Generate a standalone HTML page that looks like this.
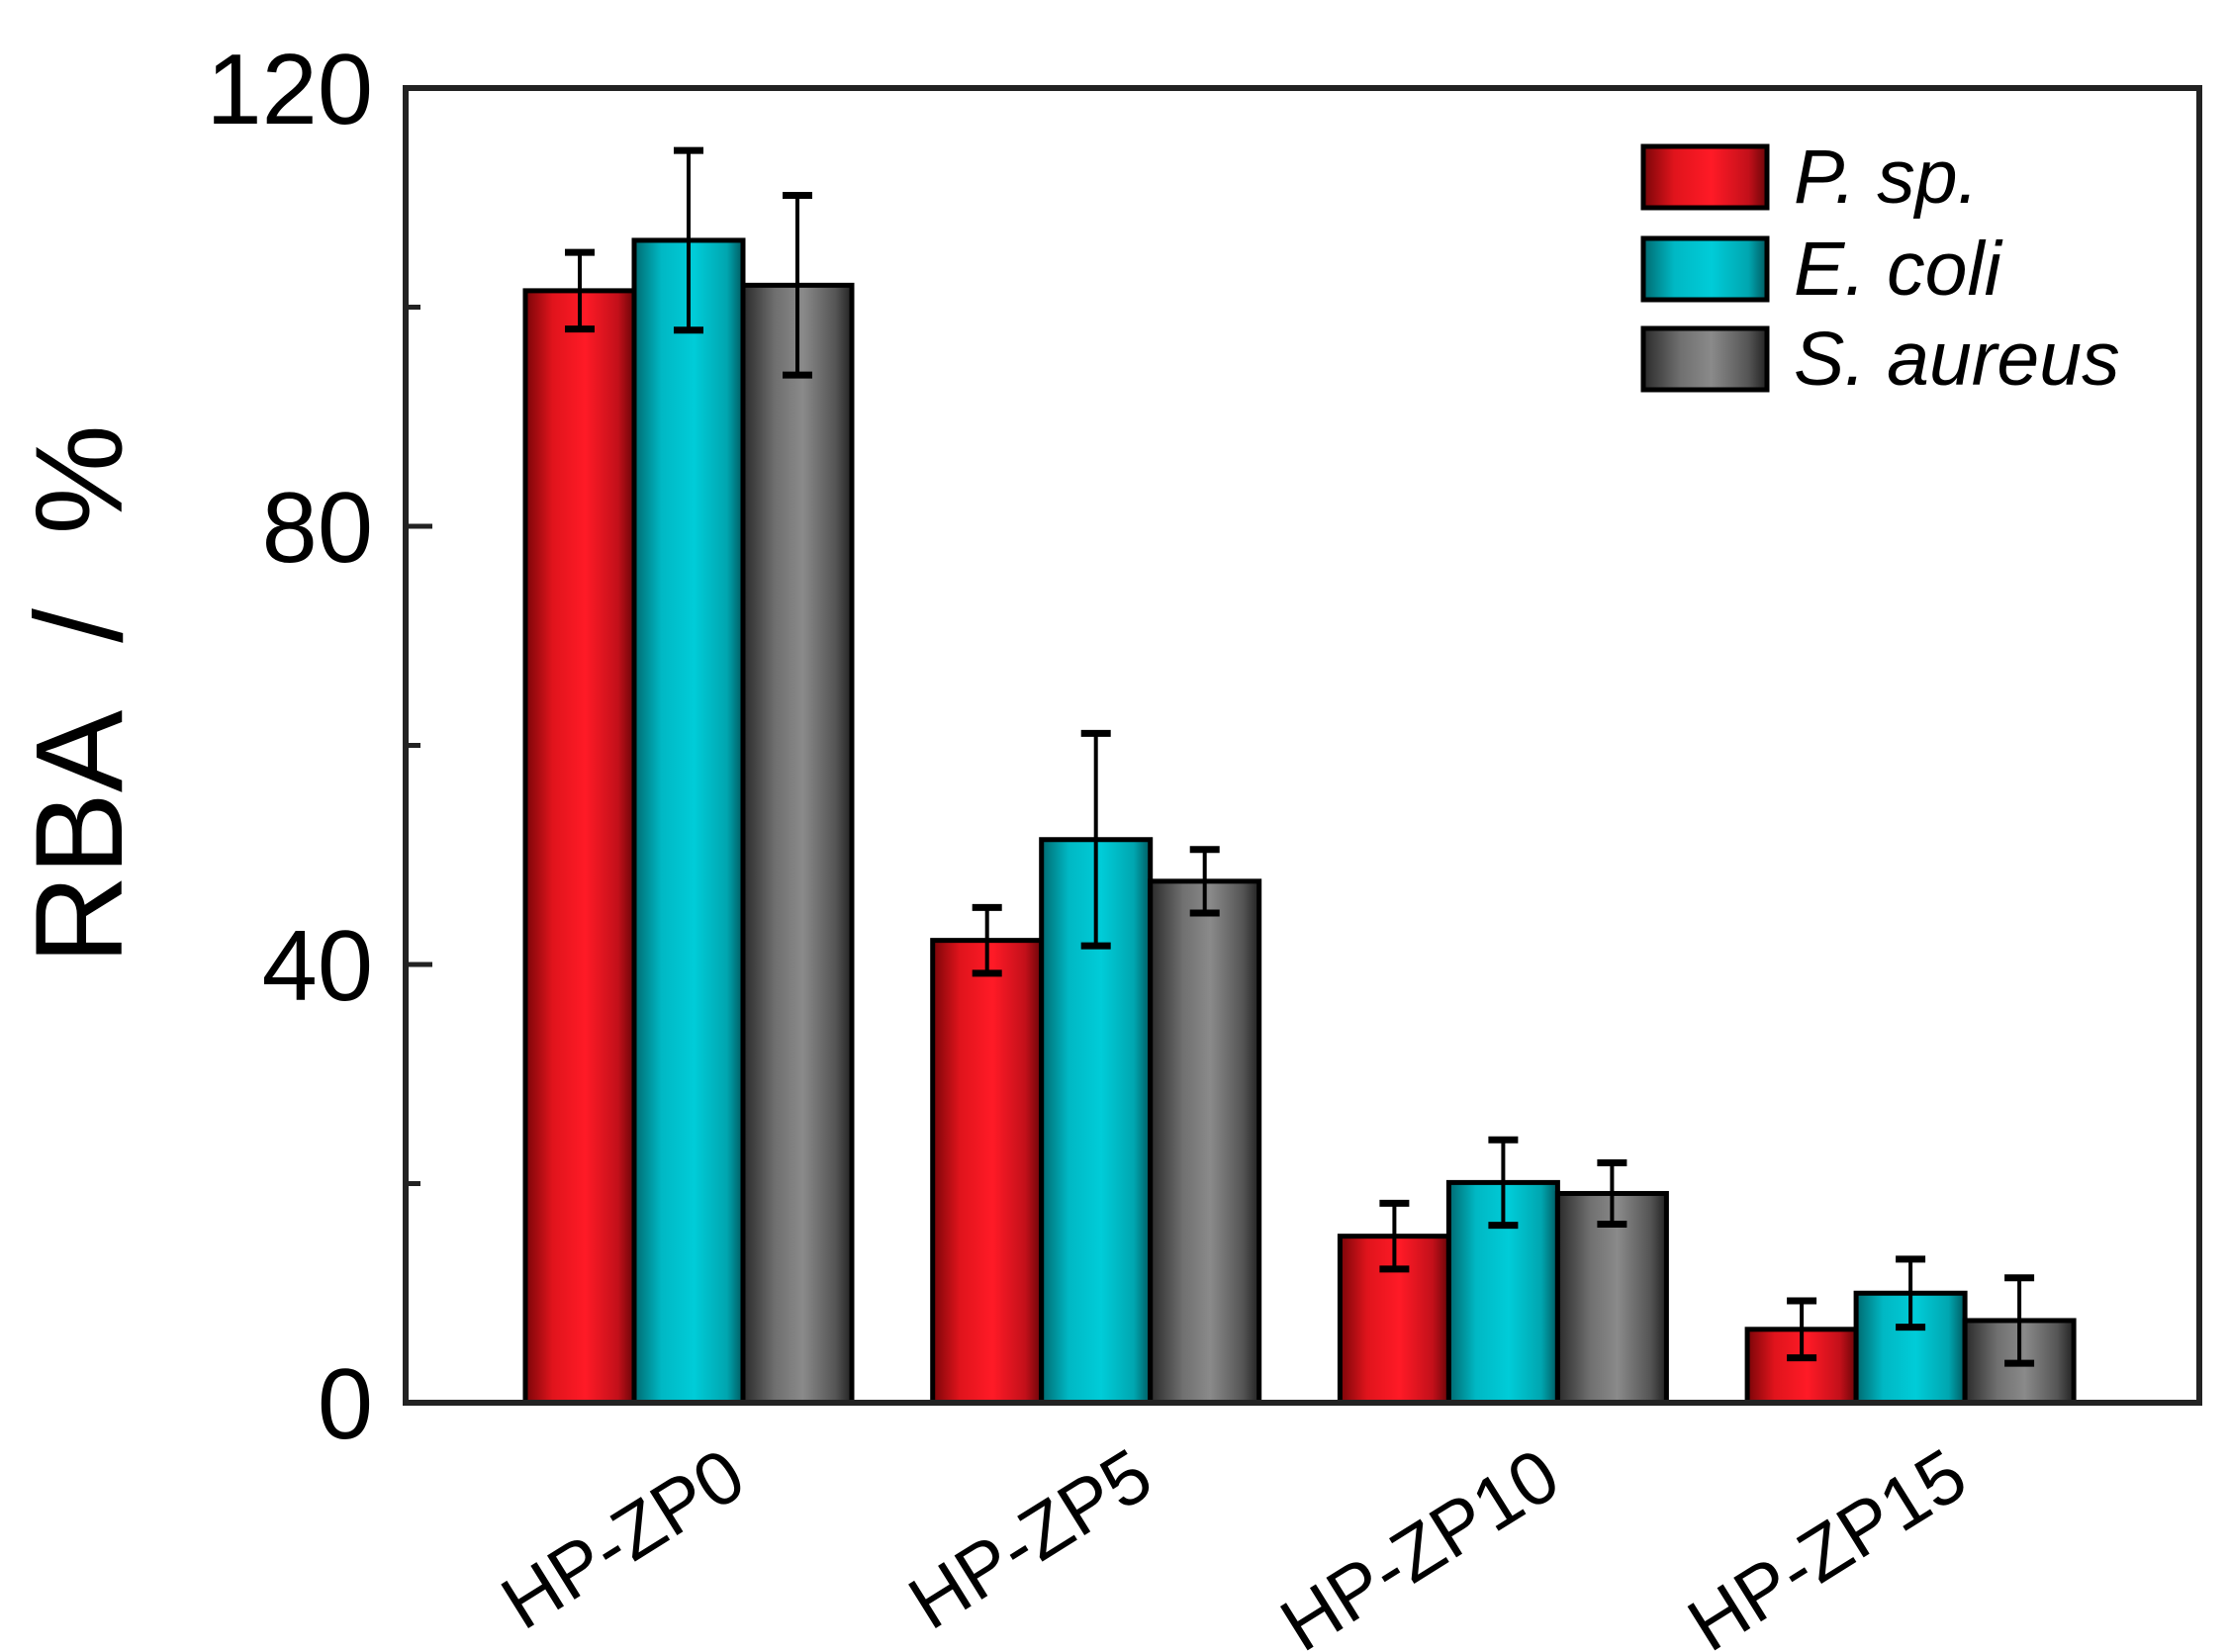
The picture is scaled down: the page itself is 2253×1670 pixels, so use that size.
<!DOCTYPE html>
<html><head><meta charset="utf-8"><style>
html,body{margin:0;padding:0;background:#fff;}
svg{display:block;font-family:"Liberation Sans",Arial,sans-serif;}
</style></head><body>
<svg id="chart" width="2253" height="1670" viewBox="0 0 2253 1670" xmlns="http://www.w3.org/2000/svg">
<defs>
<linearGradient id="gRed" x1="0" x2="1" y1="0" y2="0">
<stop offset="0" stop-color="#7a0508"/><stop offset="0.25" stop-color="#e0141c"/><stop offset="0.55" stop-color="#ff1a26"/><stop offset="0.85" stop-color="#c3101a"/><stop offset="1" stop-color="#6a0508"/></linearGradient>
<linearGradient id="gCyan" x1="0" x2="1" y1="0" y2="0">
<stop offset="0" stop-color="#006a70"/><stop offset="0.25" stop-color="#00b8c4"/><stop offset="0.55" stop-color="#00ccd8"/><stop offset="0.85" stop-color="#00a6b0"/><stop offset="1" stop-color="#005a60"/></linearGradient>
<linearGradient id="gGray" x1="0" x2="1" y1="0" y2="0">
<stop offset="0" stop-color="#2a2a2a"/><stop offset="0.3" stop-color="#707070"/><stop offset="0.55" stop-color="#8a8a8a"/><stop offset="0.85" stop-color="#555"/><stop offset="1" stop-color="#222"/></linearGradient>
</defs>
<g id="bars"></g>
<g id="errs"></g>
<g id="axes"></g>
<g id="legend"></g>
<text x="0" y="0" font-size="125" fill="#000" text-anchor="middle" word-spacing="40" transform="translate(123,702) rotate(-90)">RBA / %</text>
</svg>
<script>
const categories = ["HP-ZP0","HP-ZP5","HP-ZP10","HP-ZP15"];
const seriesNames = ["P. sp.","E. coli","S. aureus"];
const pspValues = [101.5, 42.2, 15.2, 6.7];
const pspErrors = [3.5, 3.0, 3.0, 2.6];
const ecoliValues = [106.1, 51.4, 20.1, 10.0];
const ecoliErrors = [8.2, 9.7, 3.9, 3.1];
const saureusValues = [102.0, 47.6, 19.1, 7.5];
const saureusErrors = [8.2, 2.9, 2.8, 3.9];
const majorTicks = [0, 40, 80, 120];
const minorTicks = [20, 60, 100];
const tickLabels = ["0","40","80","120"];

const NS = "http://www.w3.org/2000/svg";
const L = 410, R = 2223, T = 89, B = 1418, YMAX = 120;
function yScale(v){ return B - v / YMAX * (B - T); }
const groupStep = 411.7, firstCenter = L + 286, barW = 110;
function xCenter(i){ return firstCenter + i * groupStep; }
function mk(tag, attrs, parent){ const e = document.createElementNS(NS, tag); for (const k in attrs) e.setAttribute(k, attrs[k]); parent.appendChild(e); return e; }

const values = [pspValues, ecoliValues, saureusValues];
const errors = [pspErrors, ecoliErrors, saureusErrors];
const fills = ["url(#gRed)","url(#gCyan)","url(#gGray)"];
const keys = ["psp","ecoli","saureus"];
const gb = document.getElementById("bars"), ge = document.getElementById("errs");
categories.forEach((c, i) => {
  values.forEach((vals, s) => {
    const x = xCenter(i) + (s - 1) * barW - barW / 2;
    const y = yScale(vals[i]);
    const r = mk("rect", {x: x, y: y, width: barW, height: B - y, fill: fills[s], stroke: "#000", "stroke-width": 5}, gb);
    
    
    const cx = x + barW / 2, y1 = yScale(vals[i] + errors[s][i]), y2 = yScale(vals[i] - errors[s][i]);
    const g = mk("g", {stroke: "#000", "stroke-width": 4}, ge);
    
    
    mk("line", {x1: cx, x2: cx, y1: y1, y2: y2}, g);
    mk("line", {x1: cx - 15, x2: cx + 15, y1: y1, y2: y1, "stroke-width": 7}, g);
    mk("line", {x1: cx - 15, x2: cx + 15, y1: y2, y2: y2, "stroke-width": 7}, g);
  });
  const tx = xCenter(i) + 62, ty = B + 88;
  const t = mk("text", {x: 0, y: 0, "font-size": 76, "text-anchor": "end", transform: `translate(${tx},${ty}) rotate(-32)`}, document.getElementById("axes"));
  
  
  t.textContent = c;
});
const ga = document.getElementById("axes");
const frame = mk("rect", {x: L, y: T, width: R - L, height: B - T, fill: "none", stroke: "#222", "stroke-width": 6}, ga);


majorTicks.forEach((v, k) => {
  const y = yScale(v);
  const tk = mk("line", {x1: L, x2: L + 27, y1: y, y2: y, stroke: "#222", "stroke-width": 5}, ga);
  
  
  const t = mk("text", {x: 377, y: y + 36, "font-size": 101, "text-anchor": "end", fill: "#000"}, ga);
  
  
  t.textContent = tickLabels[k];
});
minorTicks.forEach(v => {
  const y = yScale(v);
  const tk = mk("line", {x1: L, x2: L + 15, y1: y, y2: y, stroke: "#222", "stroke-width": 5}, ga);
  
  
});
const gl = document.getElementById("legend");
const legY = [148, 241, 332];
seriesNames.forEach((n, s) => {
  const g = mk("g", {}, gl);
  
  
  mk("rect", {x: 1661, y: legY[s], width: 125, height: 62, fill: fills[s], stroke: "#000", "stroke-width": 5}, g);
  const t = mk("text", {x: 1813, y: legY[s] + 57, "font-size": 77, "font-style": "italic", fill: "#000"}, g);
  t.textContent = n;
});
</script>
</body></html>
